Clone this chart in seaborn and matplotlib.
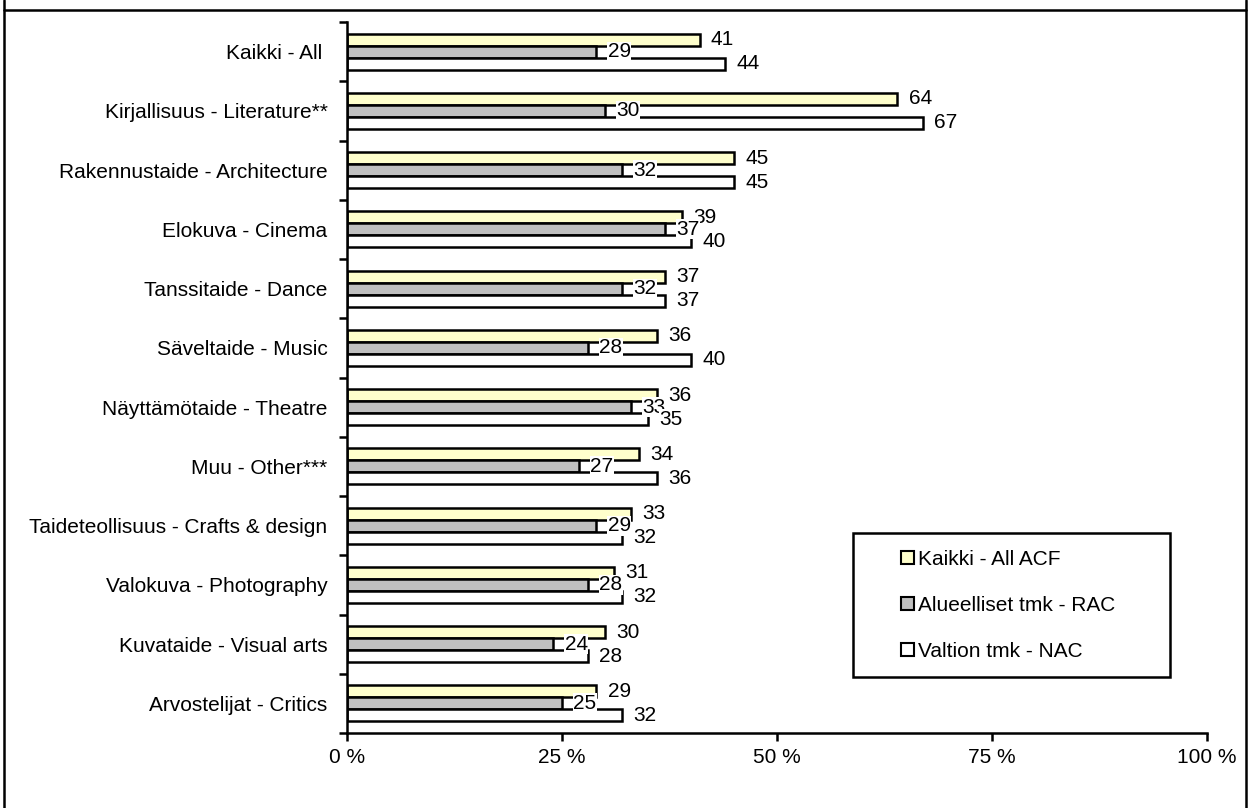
import pandas as pd
import seaborn as sns
import matplotlib.pyplot as plt
from matplotlib.lines import Line2D
from matplotlib.patches import Patch, Rectangle

# data
categories = ['Kaikki - All', 'Kirjallisuus - Literature**', 'Rakennustaide - Architecture',
              'Elokuva - Cinema', 'Tanssitaide - Dance', 'Säveltaide - Music',
              'Näyttämötaide - Theatre', 'Muu - Other***', 'Taideteollisuus - Crafts & design',
              'Valokuva - Photography', 'Kuvataide - Visual arts', 'Arvostelijat - Critics']
series = ['Kaikki - All ACF', 'Alueelliset tmk - RAC', 'Valtion tmk - NAC']
acf = [41, 64, 45, 39, 37, 36, 36, 34, 33, 31, 30, 29]
rac = [29, 30, 32, 37, 32, 28, 33, 27, 29, 28, 24, 25]
nac = [44, 67, 45, 40, 37, 40, 35, 36, 32, 32, 28, 32]
colors = ['#FFFFCC', '#C0C0C0', '#FFFFFF']

# long form table for seaborn
rows = []
for s, vals in zip(series, [acf, rac, nac]):
    for c, v in zip(categories, vals):
        rows.append({'category': c, 'series': s, 'value': v})
Data = pd.DataFrame(rows)

sns.set_style('white')
plt.rcParams['font.family'] = ['Liberation Sans', 'DejaVu Sans']
for key in ['text.color', 'xtick.color', 'ytick.color', 'axes.labelcolor']:
    plt.rcParams[key] = 'black'
fs = 15

fig = plt.figure(figsize=(12.5, 8.08), dpi=100)
ax = fig.add_axes([347 / 1250, 1 - 733 / 808, 860 / 1250, 711 / 808])

sns.barplot(data=Data, y='category', x='value', hue='series', order=categories,
            hue_order=series, palette=colors, saturation=1, width=0.61,
            edgecolor='black', linewidth=1.8, orient='h', ax=ax, legend=False)

# value labels with white background
for cont in ax.containers:
    for bar in cont:
        w = bar.get_width()
        yc = bar.get_y() + bar.get_height() / 2
        ax.text(w + 1.3, yc, f'{w:.0f}', va='center', ha='left', fontsize=fs,
                bbox=dict(facecolor='white', edgecolor='none', pad=0.3))

ax.set_xlim(0, 100)
ax.set_ylim(len(categories) - 0.5, -0.5)
ax.set_xticks([0, 25, 50, 75, 100])
ax.set_xticklabels(['0 %', '25 %', '50 %', '75 %', '100 %'], fontsize=fs)
ax.set_yticks(range(len(categories)))
ax.set_yticklabels([c + ' ' if c == 'Kaikki - All' else c for c in categories], fontsize=fs)
ax.set_yticks([i - 0.5 for i in range(len(categories) + 1)], minor=True)
ax.tick_params(axis='y', which='major', length=0, pad=14)
ax.tick_params(axis='y', which='minor', length=6, width=1.8, direction='out', left=True)
ax.tick_params(axis='x', which='major', length=6, width=1.8, direction='out', bottom=True, pad=5)
ax.set_xlabel('')
ax.set_ylabel('')
for side in ['top', 'right']:
    ax.spines[side].set_visible(False)
for side in ['left', 'bottom']:
    ax.spines[side].set_linewidth(1.8)
    ax.spines[side].set_color('black')

fw, fh = 1250, 808

# legend box drawn separately, entries without frame
fig.add_artist(Rectangle((853 / fw, 1 - 677 / fh), 317 / fw, 144 / fh, transform=fig.transFigure,
                         facecolor='white', edgecolor='black', linewidth=1.8, zorder=3))
handles = [Patch(facecolor=c, edgecolor='black', linewidth=1.5) for c in colors]
leg = fig.legend(handles, series, loc='upper left', bbox_to_anchor=(901 / fw, 1 - 550 / fh),
                 frameon=False, fontsize=fs, handlelength=0.6, handleheight=0.6,
                 handletextpad=0.2, labelspacing=1.3, borderpad=0, borderaxespad=0)
leg.set_zorder(4)

# outer frame of the figure
frame = [((4, 4), (0, fh)), ((1246, 1246), (0, fh)), ((4, 1246), (fh - 10, fh - 10))]
for xs, ys in frame:
    fig.add_artist(Line2D([x / fw for x in xs], [y / fh for y in ys], color='black', linewidth=1.8))

fig.savefig('out.png', dpi=100)
